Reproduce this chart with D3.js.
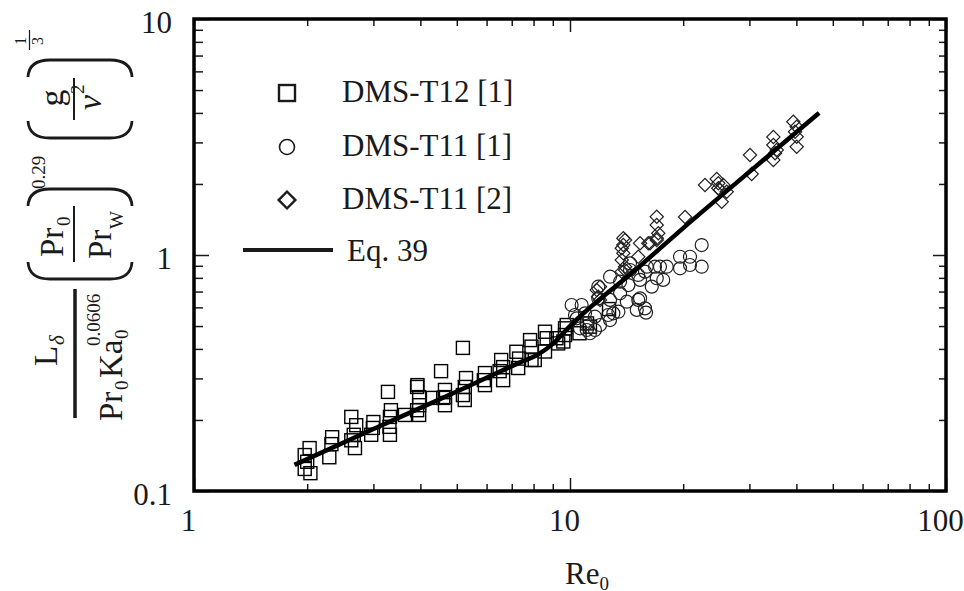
<!DOCTYPE html>
<html>
<head>
<meta charset="utf-8">
<script src="https://cdn.jsdelivr.net/npm/d3@7"></script>
<style>
  body { margin: 0; background: #fff; }
  svg { display: block; font-family: 'Liberation Serif', 'DejaVu Serif', serif; }
</style>
</head>
<body>
<svg id="chart" width="964" height="591"></svg>
<script>
// DMS-T12 [1]
const squareRe = [2.03, 1.97, 2.0, 1.97, 2.04, 2.29, 2.33, 2.32, 2.62, 2.7, 2.66, 2.62, 2.68,
  3.0, 2.99, 2.96, 3.28, 3.34, 3.32, 3.31, 3.32, 3.64, 3.92, 3.97, 3.97, 3.97, 3.92, 3.93,
  4.54, 4.32, 4.65, 4.65, 4.65, 4.6, 5.19, 5.29, 5.25, 5.19, 5.25, 5.94, 5.9, 5.94,
  6.56, 6.64, 6.64, 6.5, 7.2, 7.32, 7.28, 7.83, 7.9, 7.9, 8.06, 8.58, 8.67, 8.58, 9.3, 9.2,
  9.7, 9.7, 9.6, 10.6, 9.8, 11.3, 11.1, 12.7];
const squareY = [0.152, 0.142, 0.133, 0.124, 0.119, 0.139, 0.169, 0.158, 0.206, 0.19, 0.173, 0.164, 0.152,
  0.196, 0.185, 0.173, 0.263, 0.22, 0.206, 0.187, 0.173, 0.21, 0.276, 0.25, 0.231, 0.21, 0.22, 0.281,
  0.322, 0.248, 0.268, 0.25, 0.231, 0.248, 0.404, 0.301, 0.276, 0.255, 0.243, 0.316, 0.295, 0.281,
  0.359, 0.335, 0.295, 0.322, 0.389, 0.364, 0.332, 0.436, 0.409, 0.359, 0.359, 0.473, 0.444, 0.39, 0.422, 0.444,
  0.489, 0.458, 0.43, 0.466, 0.505, 0.497, 0.513, 0.59];

// DMS-T11 [1]
const circleRe = [10.1, 10.74, 11.89, 12.78, 13.59, 14.3, 14.44, 15.19, 16.5, 17.01, 17.7, 16.0, 16.83,
  18.08, 19.62, 20.85, 22.4, 20.85, 22.4, 19.62, 14.16, 15.19, 15.05, 15.93, 13.45, 12.64, 11.65,
  11.08, 12.02, 12.78, 10.63, 11.3, 14.44, 13.59, 15.36, 11.89, 12.78, 15.36, 15.83, 10.31, 10.96,
  15.83, 10.42, 11.08, 11.65, 13.04, 17.35];
const circleY = [0.614, 0.614, 0.734, 0.809, 0.688, 0.746, 0.864, 0.823, 0.734, 0.797, 0.784, 0.892, 0.892,
  0.892, 0.983, 0.983, 1.102, 0.907, 0.892, 0.878, 0.634, 0.645, 0.585, 0.57, 0.575, 0.557, 0.548,
  0.514, 0.505, 0.53, 0.489, 0.466, 0.922, 0.771, 0.784, 0.655, 0.645, 0.655, 0.594, 0.557, 0.566,
  0.85, 0.539, 0.481, 0.481, 0.566, 0.892];

// DMS-T11 [2]
const diamondRe = [11.78, 12.02, 11.89, 12.02, 13.73, 13.86, 13.86, 13.86, 13.73, 14.01, 14.01, 13.73, 14.01,
  15.19, 15.36, 16.15, 16.32, 17.01, 17.01, 17.17, 17.01, 17.01, 20.23,
  22.86, 24.56, 24.8, 24.8, 25.57, 25.32, 26.11, 25.06, 30.11, 30.42,
  34.74, 34.74, 35.1, 34.74, 35.47, 39.26, 40.08, 40.08, 40.08, 39.67];
const diamondY = [0.711, 0.734, 0.666, 0.645, 1.068, 1.177, 1.102, 1.017, 0.952, 0.892, 0.864, 0.85, 1.158,
  0.983, 1.121, 1.121, 1.121, 1.453, 1.34, 1.236, 1.177, 1.158, 1.449,
  1.98, 2.099, 2.013, 1.917, 1.98, 1.682, 1.854, 1.885, 2.653, 2.204,
  3.16, 2.925, 2.698, 2.526, 2.786, 3.671, 3.497, 3.171, 2.877, 3.331];

// Eq. 39
const lineRe = [1.85, 3, 5, 7.5, 8.2, 9, 10, 15, 20, 30, 46];
const lineY = [0.129, 0.183, 0.264, 0.355, 0.378, 0.42, 0.5, 0.87, 1.3, 2.25, 4.0];

const xMajor = [1, 10, 100];
const xMinor = [2, 3, 4, 5, 6, 7, 8, 9, 20, 30, 40, 50, 60, 70, 80, 90];
const yMajor = [0.1, 1, 10];
const yMinor = [0.2, 0.3, 0.4, 0.5, 0.6, 0.7, 0.8, 0.9, 2, 3, 4, 5, 6, 7, 8, 9];
const legendLabels = ['DMS-T12 [1]', 'DMS-T11 [1]', 'DMS-T11 [2]', 'Eq. 39'];

const svg = d3.select('#chart');
const ink = '#1a1a1a';

const x = d3.scaleLog().domain([1, 100]).range([194, 946]);
const y = d3.scaleLog().domain([0.1, 10]).range([491, 19]);

// axes: all ticks point inward
const addAxis = (axis, tx, ty, labels) => {
  const g = svg.append('g').attr('transform', `translate(${tx},${ty})`).call(axis);
  g.select('.domain').remove();
  g.selectAll('line').attr('stroke', ink).attr('stroke-width', 1.5);
  if (!labels) g.selectAll('text').remove();
  return g;
};

const fmt = d => d3.format('')(d);
const bottom = addAxis(d3.axisBottom(x).tickValues(xMajor).tickSize(-13).tickPadding(18).tickFormat(fmt), 0, 491, true);
bottom.selectAll('text').attr('font-size', 31).attr('fill', ink).attr('font-family', 'Liberation Serif').attr('dx', -6);
addAxis(d3.axisBottom(x).tickValues(xMinor).tickSize(-7), 0, 491, false);
addAxis(d3.axisTop(x).tickValues(xMajor).tickSize(-13), 0, 19, false);
addAxis(d3.axisTop(x).tickValues(xMinor).tickSize(-7), 0, 19, false);

const left = addAxis(d3.axisLeft(y).tickValues(yMajor).tickSize(-15).tickPadding(22).tickFormat(fmt), 194, 0, true);
left.selectAll('text').attr('font-size', 31).attr('fill', ink).attr('font-family', 'Liberation Serif').attr('dy', '0.42em');
addAxis(d3.axisLeft(y).tickValues(yMinor).tickSize(-9), 194, 0, false);
addAxis(d3.axisRight(y).tickValues(yMajor).tickSize(-13), 946, 0, false);
addAxis(d3.axisRight(y).tickValues(yMinor).tickSize(-7), 946, 0, false);

svg.append('rect')
  .attr('x', 194).attr('y', 19).attr('width', 752).attr('height', 472)
  .attr('fill', 'none').attr('stroke', '#000').attr('stroke-width', 3.5);

// data markers
svg.append('g').selectAll('rect')
  .data(d3.zip(squareRe, squareY))
  .join('rect')
  .attr('x', d => x(d[0]) - 6.5).attr('y', d => y(d[1]) - 6.5)
  .attr('width', 13).attr('height', 13)
  .attr('fill', 'none').attr('stroke', '#000').attr('stroke-width', 1.4);

svg.append('g').selectAll('circle')
  .data(d3.zip(circleRe, circleY))
  .join('circle')
  .attr('cx', d => x(d[0])).attr('cy', d => y(d[1])).attr('r', 6.5)
  .attr('fill', 'none').attr('stroke', '#222').attr('stroke-width', 1.2);

const diamond = d3.symbol(d3.symbolSquare, 88);
svg.append('g').selectAll('path')
  .data(d3.zip(diamondRe, diamondY))
  .join('path')
  .attr('d', diamond)
  .attr('transform', d => `translate(${x(d[0])},${y(d[1])}) rotate(45)`)
  .attr('fill', 'none').attr('stroke', '#222').attr('stroke-width', 1.2);

const line = d3.line().x(d => x(d[0])).y(d => y(d[1])).curve(d3.curveMonotoneX);
svg.append('path')
  .datum(d3.zip(lineRe, lineY))
  .attr('d', line)
  .attr('fill', 'none').attr('stroke', '#000').attr('stroke-width', 4.5);

// legend
const legend = svg.append('g');
const legY = [93, 147, 200, 250];
legend.append('rect').attr('x', 279).attr('y', legY[0] - 8).attr('width', 16).attr('height', 16)
  .attr('fill', 'none').attr('stroke', ink).attr('stroke-width', 2.4);
legend.append('circle').attr('cx', 287).attr('cy', legY[1]).attr('r', 7.5)
  .attr('fill', 'none').attr('stroke', ink).attr('stroke-width', 1.6);
legend.append('path').attr('d', d3.symbol(d3.symbolSquare, 140))
  .attr('transform', `translate(287,${legY[2]}) rotate(45)`)
  .attr('fill', 'none').attr('stroke', ink).attr('stroke-width', 2.4);
legend.append('line').attr('x1', 243).attr('x2', 333).attr('y1', legY[3]).attr('y2', legY[3])
  .attr('stroke', ink).attr('stroke-width', 4);
legend.selectAll('text')
  .data(legendLabels)
  .join('text')
  .attr('x', (d, i) => i === 3 ? 347 : 342)
  .attr('y', (d, i) => legY[i] + (i === 3 ? 11 : 9))
  .attr('font-size', 31).attr('fill', ink)
  .text(d => d);

// x title
const xt = svg.append('text').attr('x', 565).attr('y', 584).attr('font-size', 31).attr('fill', ink);
xt.append('tspan').text('Re');
xt.append('tspan').attr('font-size', 19).attr('dy', 6).text('0');

// y title, rotated pieces
const yt = svg.append('g').attr('fill', ink);
const put = (px, py, str, size, anchor, italic) => yt.append('text')
  .attr('transform', `translate(${px},${py}) rotate(-90)`)
  .attr('font-size', size)
  .attr('text-anchor', anchor || 'start')
  .attr('font-style', italic ? 'italic' : 'normal')
  .text(str);
const bar = (px, y1, y2, w) => yt.append('line')
  .attr('x1', px).attr('x2', px).attr('y1', y1).attr('y2', y2)
  .attr('stroke', ink).attr('stroke-width', w);
const paren = (y0, y1) => {
  // y0: tip row, y1: end row (rotated bracket)
  const d = `M28,${y1} Q29,${y0} 50,${y0} L110,${y0} Q131,${y0} 132,${y1}`;
  yt.append('path').attr('d', d).attr('fill', 'none').attr('stroke', ink).attr('stroke-width', 2.8);
};

// L_delta / (Pr_0 Ka_0^0.0606)
put(57, 366, 'L', 33);
put(64, 345, 'δ', 21, 'start', true);
bar(75, 289, 418, 3.5);
put(122, 421, 'Pr', 33);
put(128, 390, '0', 19);
put(122, 378, 'Ka', 33);
put(128, 339, '0', 19);
put(100, 346, '0.0606', 19);

// (Pr_0 / Pr_W)^0.29
paren(279, 262);
paren(189, 206);
put(63, 257, 'Pr', 33);
put(70, 226, '0', 19);
bar(74, 206, 262, 2);
put(111, 259, 'Pr', 33);
put(123, 229, 'W', 19);
put(45, 189, '0.29', 19);

// (g / nu^2)^(1/3)
paren(138, 121);
paren(60, 77);
put(63, 98, 'g', 34, 'middle');
bar(74, 78, 120, 2);
put(101, 110, 'ν', 34, 'start', true);
put(84, 94, '2', 19);
put(26, 41, '1', 16, 'middle');
bar(29.5, 30, 50, 1.2);
put(43, 41, '3', 16, 'middle');
</script>
</body>
</html>
